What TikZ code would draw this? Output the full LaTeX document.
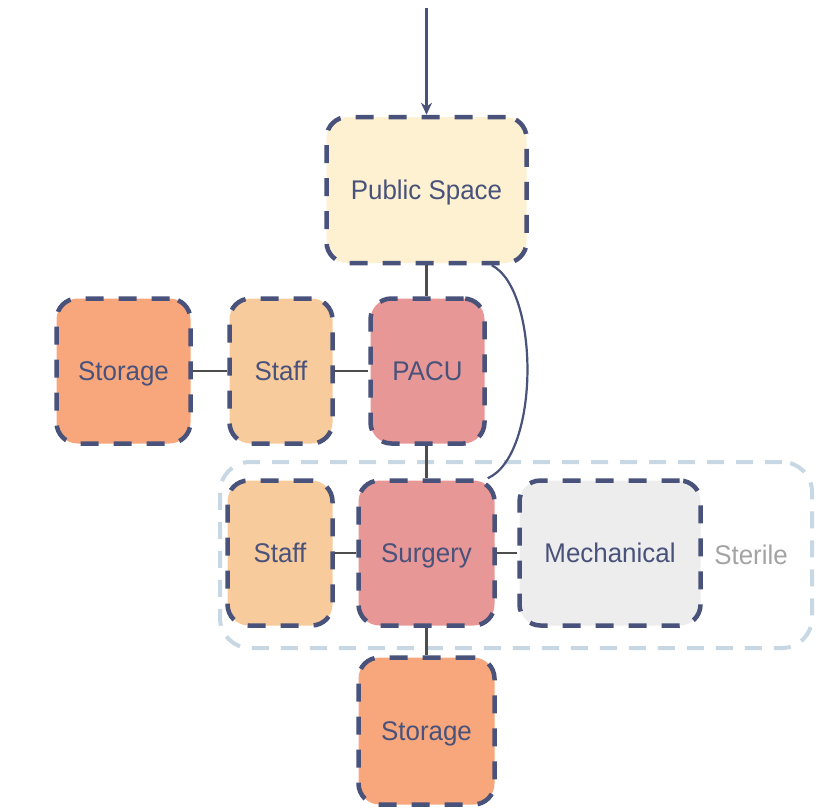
\documentclass[tikz,border=0pt]{standalone}
\usepackage{fontspec}
\setmainfont{Liberation Sans}[FakeStretch=0.96]
\usetikzlibrary{arrows.meta}
\definecolor{navy}{HTML}{48527A}
\definecolor{pubfill}{HTML}{FEF1D2}
\definecolor{storfill}{HTML}{F8A77C}
\definecolor{stafffill}{HTML}{F8CB9C}
\definecolor{surgfill}{HTML}{E89797}
\definecolor{mechfill}{HTML}{EDEDED}
\definecolor{clusterc}{HTML}{C8D7E4}
\definecolor{linkc}{HTML}{4D4D4D}
\definecolor{labelgray}{HTML}{A3A3A3}
\tikzset{
  room/.style={draw=navy, line width=4.5pt, dash pattern=on 18pt off 15pt, rounded corners=21pt,
    text=navy, font=\fontsize{27}{30}\selectfont, inner sep=0pt, text height=19.5pt, text depth=0pt},
  link/.style={draw=linkc, line width=2.6pt},
  cluster/.style={draw=clusterc, line width=4pt, dash pattern=on 17pt off 12pt, rounded corners=30pt},
}
\begin{document}
\begin{tikzpicture}[x=1pt,y=-1pt]
\useasboundingbox (0,0) rectangle (818,809);
\node[cluster, minimum width=592pt, minimum height=186pt] (ster) at (516,555) {};
\node[text=labelgray, font=\fontsize{27}{30}\selectfont, inner sep=0pt, text height=19.5pt, text depth=0pt] (sterlab) at (751,555) {Sterile};
\node[room, fill=pubfill, minimum width=200pt, minimum height=146pt] (pub) at (426.5,190) {Public Space};
\node[room, fill=storfill, minimum width=134pt, minimum height=145pt] (sto1) at (123.5,371) {Storage};
\node[room, fill=stafffill, minimum width=103pt, minimum height=145pt] (sta1) at (281,371) {Staff};
\node[room, fill=surgfill, minimum width=114pt, minimum height=145pt] (pacu) at (427.5,371) {PACU};
\node[room, fill=stafffill, minimum width=105pt, minimum height=145pt] (sta2) at (280,553) {Staff};
\node[room, fill=surgfill, minimum width=136pt, minimum height=145pt] (surg) at (426.5,553) {Surgery};
\node[room, fill=mechfill, minimum width=181pt, minimum height=145pt] (mech) at (610,553) {Mechanical};
\node[room, fill=storfill, minimum width=136pt, minimum height=147pt] (sto2) at (426.5,731) {Storage};
\coordinate (entry) at (426.5,8);
\draw[navy, line width=2.4pt, -{Stealth[length=12pt,width=11pt]}] (entry) -- (pub.north);
\draw[link] (pub.south) -- (pacu.north -| pub.south);
\draw[link] (pacu.south -| surg.north) -- (surg.north);
\draw[link] (sto1.east) -- (sta1.west);
\draw[link] (sta1.east) -- (pacu.west);
\draw[link] (sta2.east) -- (surg.west);
\draw[link] (surg.east) -- (mech.west);
\draw[link] (surg.south) -- (sto2.north);
\draw[navy, line width=2.2pt] ([xshift=-37pt]pub.south east) .. controls (540,290) and (540,455) .. ([xshift=-9pt]surg.north east);
\end{tikzpicture}
\end{document}
